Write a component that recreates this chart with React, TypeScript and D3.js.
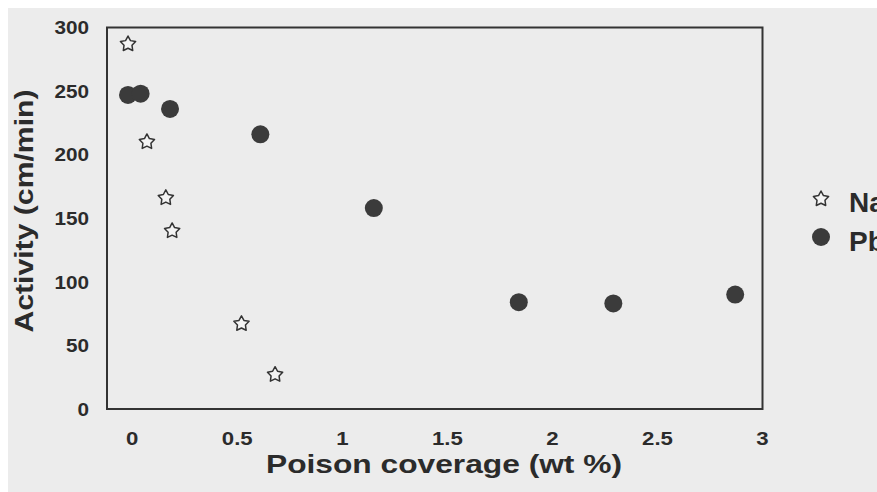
import React, { useEffect } from "react";
import * as d3 from "d3";

// Sodium-poisoned catalyst: coverage (wt %) vs activity (cm/min)
const naCoverage = [-0.02, 0.07, 0.16, 0.19, 0.52, 0.68];
const naActivity = [287, 210, 166, 140, 67, 27];

// Lead-poisoned catalyst
const pbCoverage = [-0.02, 0.04, 0.18, 0.61, 1.15, 1.84, 2.29, 2.87];
const pbActivity = [247, 248, 236, 216, 158, 84, 83, 90];

const xTicks = [0, 0.5, 1, 1.5, 2, 2.5, 3];
const yTicks = [0, 50, 100, 150, 200, 250, 300];
const seriesNames = ["Na", "Pb"];

const W = 877;
const H = 492;
const PAD = 8; // white border round the grey page area
const FONT = "'Liberation Sans', Arial, Helvetica, sans-serif";
const INK = "#2b2b2b";
const DOT = "#3b3b3b";

// Five-pointed outline star centred on the origin
function starPath(rOuter: number, rInner: number): string {
  const pts = d3.range(10).map((i) => {
    const a = (Math.PI / 5) * i - Math.PI / 2;
    const r = i % 2 === 0 ? rOuter : rInner;
    return [Math.cos(a) * r, Math.sin(a) * r] as [number, number];
  });
  return (d3.line().curve(d3.curveLinearClosed)(pts) as string) || "";
}

export default function App() {
  useEffect(() => {
    document.body.style.margin = "0";
    document.documentElement.style.overflow = "hidden";
  }, []);

  const x = d3.scaleLinear().domain([-0.12, 3]).range([99, 754.5]);
  const y = d3.scaleLinear().domain([0, 300]).range([401, 19.5]);

  const star = starPath(8, 4.2);
  const naPts = naCoverage.map((c, i) => ({ c, a: naActivity[i] }));
  const pbPts = pbCoverage.map((c, i) => ({ c, a: pbActivity[i] }));

  const [x0, x1] = x.range();
  const [y0, y1] = y.range();

  return (
    <svg width={W} height={H} style={{ display: "block" }}>
      <rect x={0} y={0} width={W} height={H} fill="#ffffff" />
      <rect x={PAD} y={PAD} width={W - PAD} height={H - PAD} fill="#ececec" />

      <g transform={`translate(${PAD},${PAD})`}>
        {/* plot frame */}
        <rect
          x={x0}
          y={y1}
          width={x1 - x0}
          height={y0 - y1}
          fill="none"
          stroke="#333"
          strokeWidth={2}
        />

        {/* y tick labels */}
        {yTicks.map((t) => (
          <g key={"y" + t} transform={`translate(81,${y(t)}) scale(1.12,1)`}>
            <text
              dy="0.36em"
              textAnchor="end"
              fontFamily={FONT}
              fontWeight="bold"
              fontSize={18.5}
              fill={INK}
            >
              {t}
            </text>
          </g>
        ))}

        {/* x tick labels */}
        {xTicks.map((t) => (
          <g key={"x" + t} transform={`translate(${x(t)},430) scale(1.2,1)`}>
            <text
              dy="0.36em"
              textAnchor="middle"
              fontFamily={FONT}
              fontWeight="bold"
              fontSize={18.5}
              fill={INK}
            >
              {t}
            </text>
          </g>
        ))}

        {/* axis titles */}
        <text
          x={436}
          y={465}
          textAnchor="middle"
          textLength={356}
          lengthAdjust="spacingAndGlyphs"
          fontFamily={FONT}
          fontWeight="bold"
          fontSize={25.5}
          fill={INK}
        >
          Poison coverage (wt %)
        </text>
        <text
          transform={`translate(25, 203) rotate(-90)`}
          textAnchor="middle"
          textLength={243}
          lengthAdjust="spacingAndGlyphs"
          fontFamily={FONT}
          fontWeight="bold"
          fontSize={25.5}
          fill={INK}
        >
          Activity (cm/min)
        </text>

        {/* Pb points */}
        {pbPts.map((p, i) => (
          <circle key={"pb" + i} cx={x(p.c)} cy={y(p.a)} r={9} fill={DOT} />
        ))}

        {/* Na points */}
        {naPts.map((p, i) => (
          <path
            key={"na" + i}
            d={star}
            transform={`translate(${x(p.c)},${y(p.a)})`}
            fill="#f4f4f4"
            stroke="#333"
            strokeWidth={1.5}
            strokeLinejoin="round"
          />
        ))}

        {/* legend */}
        <g>
          <path
            d={star}
            transform="translate(813,191)"
            fill="#f4f4f4"
            stroke="#333"
            strokeWidth={1.5}
            strokeLinejoin="round"
          />
          <text x={841} y={204} fontFamily={FONT} fontWeight="bold" fontSize={28} fill={INK}>
            {seriesNames[0]}
          </text>
          <circle cx={813} cy={229} r={9} fill={DOT} />
          <text x={841} y={243} fontFamily={FONT} fontWeight="bold" fontSize={28} fill={INK}>
            {seriesNames[1]}
          </text>
        </g>
      </g>
    </svg>
  );
}
